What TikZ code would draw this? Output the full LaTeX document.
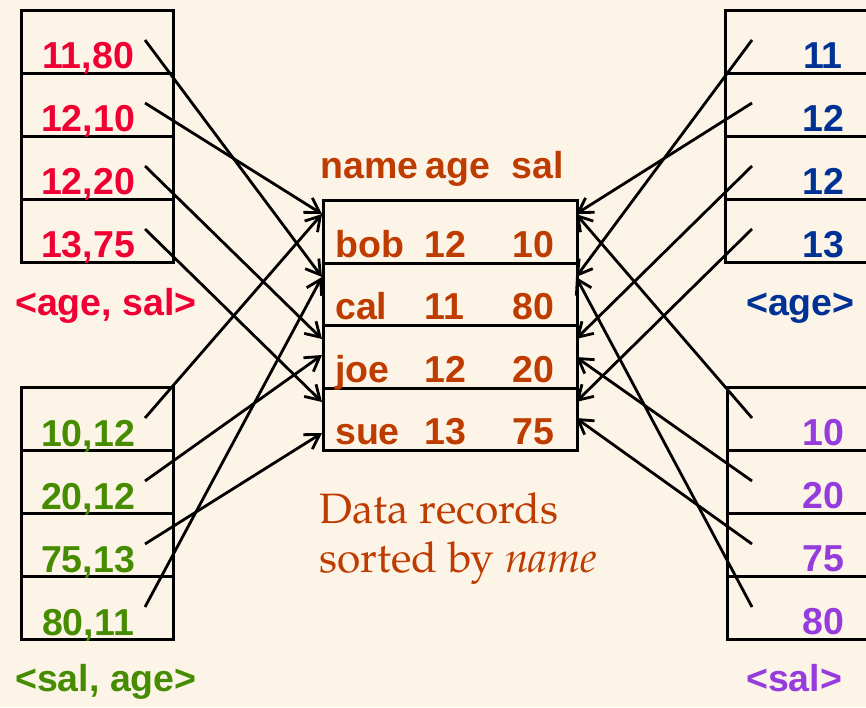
\documentclass[tikz,border=0pt]{standalone}
\usepackage{fontspec}
\setmainfont{Liberation Sans}
\newfontfamily\palfont{TeX Gyre Pagella}
\usetikzlibrary{arrows.meta}
\definecolor{bg}{RGB}{253,244,232}
\definecolor{cred}{RGB}{240,0,50}
\definecolor{cblue}{RGB}{0,50,150}
\definecolor{cgreen}{RGB}{70,140,0}
\definecolor{cpurple}{RGB}{150,60,220}
\definecolor{cbrown}{RGB}{190,60,0}
\begin{document}
\begin{tikzpicture}[x=1pt,y=-1pt,
  cell/.style={draw=black, line width=3.4pt, inner sep=0pt, anchor=north west, minimum height=63pt},
  lcell/.style={cell, minimum width=152.5pt},
  rcell/.style={cell, minimum width=200pt},
  ccell/.style={cell, minimum width=253.5pt, minimum height=62.5pt},
  val/.style={font=\bfseries\fontsize{37.5}{40}\selectfont, inner sep=0pt, anchor=base},
  lab/.style={val, anchor=base west},
  ctext/.style={val, anchor=base west, text=cbrown},
  ptr/.style={draw=black, line width=2.8pt, -{Straight Barb[length=14pt,width=17pt,line width=2.8pt]}}
]
\useasboundingbox (0,0) rectangle (866,707);
\fill[bg] (0,0) rectangle (866,707);
\clip (0,0) rectangle (866,707);

% boxes
\foreach \i in {0,1,2,3} {
  \node[lcell] (lt\i) at (19.5, {9+63*\i}) {};
  \node[lcell] (lb\i) at (19.5, {386+63*\i}) {};
  \node[rcell] (rt\i) at (724, {9+63*\i}) {};
  \node[rcell] (rb\i) at (725.5, {386+63*\i}) {};
}
\foreach \i in {0,1,2,3} {
  \node[ccell] (c\i) at (322, {199+62.5*\i}) {};
}

% texts left top
\node[val, text=cred] (tlt0) at (88,68) {11,80};
\node[val, text=cred] (tlt1) at (88,131) {12,10};
\node[val, text=cred] (tlt2) at (88,194) {12,20};
\node[val, text=cred] (tlt3) at (88,257) {13,75};
\node[lab, text=cred] (llt) at (15,315) {<age, sal>};

% texts left bottom
\node[val, text=cgreen] (tlb0) at (88,446) {10,12};
\node[val, text=cgreen] (tlb1) at (88,509) {20,12};
\node[val, text=cgreen] (tlb2) at (88,572) {75,13};
\node[val, text=cgreen] (tlb3) at (88,635) {80,11};
\node[lab, text=cgreen] (llb) at (15,691) {<sal, age>};

% texts right top
\node[val, text=cblue] (trt0) at (823,68) {11};
\node[val, text=cblue] (trt1) at (823,131) {12};
\node[val, text=cblue] (trt2) at (823,194) {12};
\node[val, text=cblue] (trt3) at (823,257) {13};
\node[lab, text=cblue] (lrt) at (746,315) {<age>};

% texts right bottom
\node[val, text=cpurple] (trb0) at (823,445) {10};
\node[val, text=cpurple] (trb1) at (823,508) {20};
\node[val, text=cpurple] (trb2) at (823,571) {75};
\node[val, text=cpurple] (trb3) at (823,634) {80};
\node[lab, text=cpurple] (lrb) at (746,691) {<sal>};

% center header and records
\node[ctext] (hname) at (320.5,178) {name};
\node[ctext] (hage) at (425.5,178) {age};
\node[ctext] (hsal) at (511.5,178) {sal};
\node[ctext] (n0) at (335,257) {bob};
\node[ctext] (a0) at (424.5,257) {12};
\node[ctext] (s0) at (512,257) {10};
\node[ctext] (n1) at (335,319.5) {cal};
\node[ctext] (a1) at (424.5,319.5) {11};
\node[ctext] (s1) at (512,319.5) {80};
\node[ctext] (n2) at (335,382) {joe};
\node[ctext] (a2) at (424.5,382) {12};
\node[ctext] (s2) at (512,382) {20};
\node[ctext] (n3) at (335,444.5) {sue};
\node[ctext] (a3) at (424.5,444.5) {13};
\node[ctext] (s3) at (512,444.5) {75};

\node[anchor=base west, inner sep=0pt, text=cbrown,
      font=\palfont\fontsize{42.5}{49}\selectfont] (cap1) at (319.5,523) {Data records};
\node[anchor=base west, inner sep=0pt, text=cbrown,
      font=\palfont\fontsize{42.5}{49}\selectfont] (cap2) at (319.5,572) {sorted by \textit{name}};

% pointer start coordinates
\foreach \i in {0,1,2,3} {
  \coordinate (plt\i) at (145, {40+63*\i});
  \coordinate (plb\i) at (145, {418+63*\i});
  \coordinate (prt\i) at (752, {40+63*\i});
  \coordinate (prb\i) at (752, {418+63*\i});
}
% target coordinates on the record box
\coordinate (L0) at (322,214);
\coordinate (L1) at (322,277);
\coordinate (L2a) at (322,339);
\coordinate (L2b) at (322,355);
\coordinate (L3a) at (322,402);
\coordinate (L3b) at (322,433);
\coordinate (R0) at (576,214);
\coordinate (R1) at (576,277);
\coordinate (R2a) at (576,339);
\coordinate (R2b) at (576,357);
\coordinate (R3a) at (576,402);
\coordinate (R3b) at (576,418);

% left top pointers
\draw[ptr] (plt0) -- (L1);
\draw[ptr] (plt1) -- (L0);
\draw[ptr] (plt2) -- (L2a);
\draw[ptr] (plt3) -- (L3a);
% left bottom pointers
\draw[ptr] (plb0) -- (L0);
\draw[ptr] (plb1) -- (L2b);
\draw[ptr] (plb2) -- (L3b);
\draw[ptr] (plb3) -- (L1);
% right top pointers
\draw[ptr] (prt0) -- (R1);
\draw[ptr] (prt1) -- (R0);
\draw[ptr] (prt2) -- (R2a);
\draw[ptr] (prt3) -- (R3a);
% right bottom pointers
\draw[ptr] (prb0) -- (R0);
\draw[ptr] (prb1) -- (R2b);
\draw[ptr] (prb2) -- (R3b);
\draw[ptr] (prb3) -- (R1);
\end{tikzpicture}
\end{document}
